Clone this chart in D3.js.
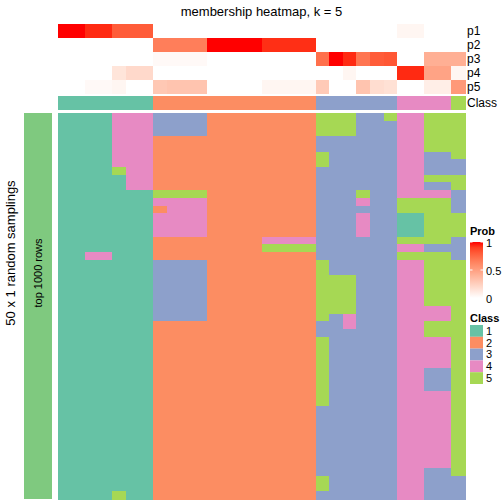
<!DOCTYPE html>
<html>
<head>
<meta charset="utf-8">
<script src="https://cdn.jsdelivr.net/npm/d3@7"></script>
<style>
html, body { margin: 0; padding: 0; background: #ffffff; }
svg { display: block; font-family: "Liberation Sans", Arial, Helvetica, sans-serif; }
</style>
</head>
<body>
<svg id="chart" width="504" height="504"></svg>
<script>
// ---- data ----
const title = "membership heatmap, k = 5";
const rowTitle = "50 x 1 random samplings";
const blockLabel = "top 1000 rows";
const classLabels = ["1", "2", "3", "4", "5"];
const classColors = ["#66C2A5", "#FC8D62", "#8DA0CB", "#E78AC3", "#A6D854"];
const probRows = ["p1", "p2", "p3", "p4", "p5"];
const probTicks = [0, 0.5, 1];

// class of each of the 30 samples (columns)
const sampleClass = [1,1,1,1,1,1,1, 2,2,2,2,2,2,2,2,2,2,2,2, 3,3,3,3,3,3, 4,4,4,4, 5];

// membership probabilities per sample (30 values each)
const p1 = [1.00,1.00,0.95,0.95,0.80,0.80,0.80, 0,0,0,0,0,0,0,0,0,0,0,0, 0,0,0,0,0,0, 0.05,0.05,0,0, 0];
const p2 = [0,0,0,0,0,0,0, 0.66,0.66,0.66,0.66,1.00,1.00,1.00,1.00,0.94,0.94,0.94,0.94, 0,0,0,0,0,0, 0,0,0,0, 0];
const p3 = [0,0,0,0,0,0,0, 0.03,0.03,0.03,0.03,0,0,0,0,0,0,0,0, 0.72,1.00,0.95,0.70,0.80,0.82, 0,0,0.42,0.42, 0.42];
const p4 = [0,0,0,0,0.14,0.20,0.20, 0,0,0,0,0,0,0,0,0,0,0,0, 0,0,0.05,0,0,0, 0.95,0.95,0.48,0.48, 0.05];
const p5 = [0,0,0.03,0.03,0.05,0,0, 0.29,0.31,0.31,0.31,0,0,0,0,0.05,0.05,0.05,0.05, 0.28,0,0,0.31,0.18,0.16, 0,0,0.09,0.09, 0.53];

// class assigned in each of the 50 random samplings, one string per sample (column),
// character i = class in sampling i
const membership = [
  "11111111111111111111111111111111111111111111111111",
  "11111111111111111111111111111111111111111111111111",
  "11111111111111111141111111111111111111111111111111",
  "11111111111111111141111111111111111111111111111111",
  "44444445111111111111111111111111111111111111111115",
  "44444444441111111111111111111111111111111111111111",
  "44444444441111111111111111111111111111111111111111",
  "33322222225424442223333333322222222222222222222222",
  "33322222225444442223333333322222222222222222222222",
  "33322222225444442223333333322222222222222222222222",
  "33322222225444442223333333322222222222222222222222",
  "22222222222222222222222222222222222222222222222222",
  "22222222222222222222222222222222222222222222222222",
  "22222222222222222222222222222222222222222222222222",
  "22222222222222222222222222222222222222222222222222",
  "22222222222222224522222222222222222222222222222222",
  "22222222222222224522222222222222222222222222222222",
  "22222222222222224522222222222222222222222222222222",
  "22222222222222224522222222222222222222222222222222",
  "55533553333333333335555555533555555555333333333553",
  "55533333333333333333355555333333333333333333333333",
  "55533333333333333333355555443333333333333333333333",
  "33333333335434443333333333333333333333333333333333",
  "33333333333333333333333333333333333333333333333333",
  "53333333333333333333333333333333333333333333333333",
  "44444444444551115454444444444444444444444444444444",
  "44444444444551115454444444444444444444444444444444",
  "55555333534555555355555554455444433344444444443333",
  "55555333534555555355555554455444433344444444443333",
  "55555533553335553335555555555555555555555555555333"
];

// ---- layout ----
const svg = d3.select("#chart");
const left = 58, right = 465;
const nRows = 50;

const x = d3.scaleBand().domain(d3.range(sampleClass.length)).range([left, right]);
const yAnno = d3.scaleBand().domain(probRows).range([24, 94]);
const yClass = [96, 110];
const y = d3.scaleBand().domain(d3.range(nRows)).range([113, 499]);
const probColor = d3.scaleLinear().domain([0, 1]).range(["#ffffff", "#ff0000"]).interpolate(d3.interpolateLab);
const classColor = d3.scaleOrdinal().domain([1,2,3,4,5]).range(classColors);

// title
svg.append("text").attr("x", (left + right) / 2).attr("y", 16)
  .attr("text-anchor", "middle").style("font-size", "13px").text(title);

// probability annotation rows
const probData = [p1, p2, p3, p4, p5];
const gA = svg.append("g").attr("shape-rendering", "crispEdges");
probRows.forEach((name, r) => {
  gA.selectAll(null).data(probData[r]).enter().append("rect")
    .attr("x", (d, i) => x(i)).attr("width", x.bandwidth() + 0.5)
    .attr("y", yAnno(name)).attr("height", yAnno.bandwidth() + 0.3)
    .attr("fill", d => probColor(d));
  svg.append("text").attr("x", 467).attr("y", yAnno(name) + yAnno.bandwidth() / 2)
    .attr("dy", "0.36em").style("font-size", "12px").text(name);
});

// class annotation row
gA.selectAll(null).data(sampleClass).enter().append("rect")
  .attr("x", (d, i) => x(i)).attr("width", x.bandwidth() + 0.5)
  .attr("y", yClass[0]).attr("height", yClass[1] - yClass[0])
  .attr("fill", d => classColor(d));
svg.append("text").attr("x", 467).attr("y", (yClass[0] + yClass[1]) / 2)
  .attr("dy", "0.36em").style("font-size", "12px").text("Class");

// main heatmap
const cells = [];
membership.forEach((s, c) => {
  for (let r = 0; r < nRows; r++) cells.push({c, r, v: +s[r]});
});
svg.append("g").attr("shape-rendering", "crispEdges")
  .selectAll("rect").data(cells).enter().append("rect")
  .attr("x", d => x(d.c)).attr("width", x.bandwidth() + 0.5)
  .attr("y", d => y(d.r)).attr("height", y.bandwidth() + 0.5)
  .attr("fill", d => classColor(d.v));

// row block annotation
svg.append("rect").attr("x", 24).attr("width", 28).attr("y", 113).attr("height", 386)
  .attr("fill", "#7FC97F");
svg.append("text").attr("transform", "translate(38," + 273 + ") rotate(-90)")
  .attr("text-anchor", "middle").attr("dy", "0.36em").style("font-size", "11px").text(blockLabel);
svg.append("text").attr("transform", "translate(10," + 253 + ") rotate(-90)")
  .attr("text-anchor", "middle").attr("dy", "0.36em").style("font-size", "13px").text(rowTitle);

// legend: Prob
const lx = 470;
svg.append("text").attr("x", lx).attr("y", 235).style("font-size", "11px").style("font-weight", "bold").text("Prob");
const grad = svg.append("defs").append("linearGradient").attr("id", "pg")
  .attr("x1", 0).attr("y1", 1).attr("x2", 0).attr("y2", 0);
d3.range(0, 1.0001, 0.1).forEach(t => grad.append("stop").attr("offset", t).attr("stop-color", probColor(t)));
const yLeg = d3.scaleLinear().domain([0, 1]).range([298, 242]);
svg.append("rect").attr("x", lx).attr("y", yLeg(1)).attr("width", 13).attr("height", yLeg(0) - yLeg(1))
  .attr("fill", "url(#pg)");
probTicks.forEach(t => {
  svg.append("line").attr("x1", lx).attr("x2", lx + 2.5).attr("y1", yLeg(t)).attr("y2", yLeg(t)).attr("stroke", "#fff");
  svg.append("line").attr("x1", lx + 10.5).attr("x2", lx + 13).attr("y1", yLeg(t)).attr("y2", yLeg(t)).attr("stroke", "#fff");
  svg.append("text").attr("x", lx + 16).attr("y", yLeg(t) + 1).attr("dy", "0.36em")
    .style("font-size", "11px").text(t);
});

// legend: Class
svg.append("text").attr("x", lx).attr("y", 322).style("font-size", "11px").style("font-weight", "bold").text("Class");
const ySq = d3.scaleBand().domain(classLabels).range([325, 384]);
classLabels.forEach((lab, i) => {
  svg.append("rect").attr("x", lx).attr("y", ySq(lab)).attr("width", 13).attr("height", ySq.bandwidth())
    .attr("fill", classColors[i]);
  svg.append("text").attr("x", lx + 16).attr("y", ySq(lab) + ySq.bandwidth() / 2).attr("dy", "0.36em")
    .style("font-size", "11px").text(lab);
});
</script>
</body>
</html>
